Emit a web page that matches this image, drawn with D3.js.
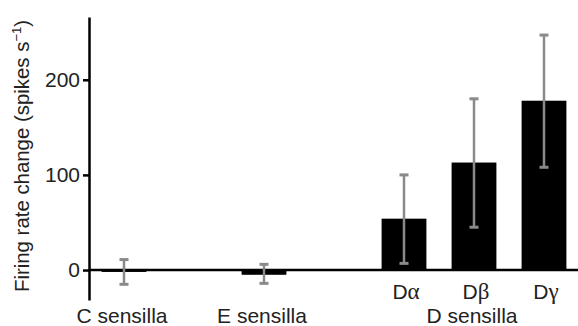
<html>
<head>
<style>
  body { margin: 0; background: #fff; font-family: "Liberation Sans", Arial, sans-serif; }
  svg text { font-family: "Liberation Sans", Arial, sans-serif; fill: #222; }
</style>
<script src="https://cdn.jsdelivr.net/npm/d3@7"></script>
</head>
<body>
<svg id="chart"></svg>
<script>
// data
const categories = ["C", "E", "Dα", "Dβ", "Dγ"];
const means = [-2, -5, 54, 113, 178];
const errLow = [-15, -14, 7, 45, 108];
const errHigh = [11, 6, 100, 180, 247];
const groupLabels = ["C sensilla", "E sensilla", "D sensilla"];
const groupOf = ["C", "E", "Dβ"];
const subLabels = ["Dα", "Dβ", "Dγ"];
const yTicks = [0, 100, 200];

const width = 578, height = 326;
const svg = d3.select("#chart").attr("width", width).attr("height", height);

// empty slots give the gaps between sensilla groups
const slots = ["C", "gap1", "E", "gap2", "Dα", "Dβ", "Dγ"];
const x = d3.scaleBand().domain(slots).range([89, 579]).paddingInner(0.36).paddingOuter(0.18);
const y = d3.scaleLinear().domain([-31.5, 266]).range([300, 17]);

const data = categories.map((c, i) => ({ c, m: means[i], lo: errLow[i], hi: errHigh[i] }));

// bars
svg.append("g").selectAll("rect").data(data).enter().append("rect")
  .attr("x", d => x(d.c))
  .attr("width", x.bandwidth())
  .attr("y", d => y(Math.max(0, d.m)))
  .attr("height", d => Math.abs(y(d.m) - y(0)))
  .attr("fill", "#000");

// zero line
svg.append("line")
  .attr("x1", 89).attr("x2", width)
  .attr("y1", y(0)).attr("y2", y(0))
  .attr("stroke", "#000").attr("stroke-width", 2.5);

// y axis
const axis = svg.append("g")
  .attr("transform", "translate(89,0)")
  .call(d3.axisLeft(y).tickValues(yTicks).tickSize(6).tickSizeOuter(0).tickPadding(3));
axis.select(".domain").attr("stroke", "#000").attr("stroke-width", 2.5);
axis.selectAll(".tick line").attr("stroke", "#000").attr("stroke-width", 2.5);
axis.selectAll(".tick text").attr("font-size", 21).attr("fill", "#222");

// error bars
const eb = svg.append("g").attr("stroke", "#8a8a8a").attr("stroke-width", 2.5);
data.forEach(d => {
  const cx = x(d.c) + x.bandwidth() / 2;
  eb.append("line").attr("x1", cx).attr("x2", cx).attr("y1", y(d.lo)).attr("y2", y(d.hi));
  eb.append("line").attr("x1", cx - 4.5).attr("x2", cx + 4.5).attr("y1", y(d.lo)).attr("y2", y(d.lo)).attr("stroke-width", 3);
  eb.append("line").attr("x1", cx - 4.5).attr("x2", cx + 4.5).attr("y1", y(d.hi)).attr("y2", y(d.hi)).attr("stroke-width", 3);
});

// category labels, greek letter in a serif face like the original
const sub = svg.append("g").selectAll("text").data(subLabels).enter().append("text")
  .attr("x", d => x(d) + x.bandwidth() / 2 + 2)
  .attr("y", 299)
  .attr("text-anchor", "middle")
  .attr("font-size", 21);
sub.append("tspan").text(d => d.slice(0, 1));
sub.append("tspan").style("font-family", "'Liberation Serif', 'Times New Roman', serif")
  .attr("font-size", 23).text(d => d.slice(1));

svg.append("g").selectAll("text").data(groupLabels).enter().append("text")
  .attr("x", (d, i) => x(groupOf[i]) + x.bandwidth() / 2 - 2)
  .attr("y", 323)
  .attr("text-anchor", "middle")
  .attr("font-size", 21)
  .text(d => d);

// y title
const title = svg.append("text")
  .attr("transform", "translate(29,156) rotate(-90)")
  .attr("text-anchor", "middle")
  .attr("font-size", 20.4);
title.append("tspan").text("Firing rate change (spikes s");
title.append("tspan").attr("font-size", 13).attr("dy", -8).text("−1");
title.append("tspan").attr("dy", 8).text(")");
</script>
</body>
</html>
